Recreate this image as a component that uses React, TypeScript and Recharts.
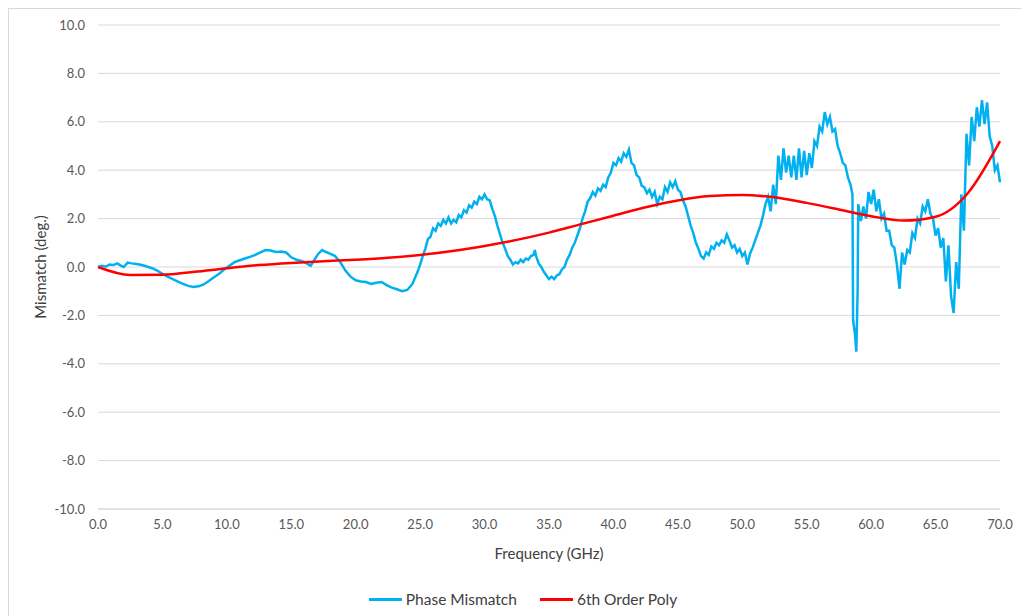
import React from "react";
import {
  LineChart,
  Line,
  XAxis,
  YAxis,
  CartesianGrid,
  Legend,
  Label,
} from "recharts";

const phaseFreq = [
  // 0 - 24.8
  0.0, 0.3, 0.6, 0.9, 1.2, 1.5, 1.8, 2.0, 2.3, 2.6, 3.0, 3.4, 3.8, 4.2, 4.6, 5.0, 5.4, 5.8, 6.2, 6.6,
  7.0, 7.4, 7.8, 8.2, 8.6, 9.0, 9.4, 9.8, 10.2, 10.6, 11.0, 11.4, 11.8, 12.2, 12.6, 13.0, 13.4, 13.8, 14.2, 14.6,
  15.0, 15.4, 15.8, 16.2, 16.5, 16.8, 17.1, 17.4, 17.7, 18.0, 18.4, 18.8, 19.2, 19.6, 20.0, 20.4, 20.8, 21.2, 21.6, 22.0,
  22.4, 22.8, 23.2, 23.6, 24.0, 24.4, 24.8,
  // 25 - 31
  25.0, 25.2, 25.4, 25.6, 25.8, 26.0, 26.2, 26.4, 26.6, 26.8, 27.0, 27.2, 27.4, 27.6, 27.8, 28.0,
  28.2, 28.4, 28.6, 28.8, 29.0, 29.2, 29.4, 29.6, 29.8, 30.0, 30.2, 30.4, 30.6, 30.8, 31.0,
  // 31.2 - 38
  31.2, 31.4, 31.6, 31.8, 32.0, 32.2, 32.4, 32.6, 32.8, 33.0, 33.2, 33.4, 33.6, 33.8, 33.9, 34.0,
  34.2, 34.4, 34.6, 34.8, 35.0, 35.2, 35.4, 35.6, 35.8, 36.0, 36.2, 36.4, 36.6, 36.8, 37.0, 37.2,
  37.4, 37.6, 37.8, 38.0,
  // 38.2 - 52.2
  38.2, 38.4, 38.6, 38.8, 39.0, 39.2, 39.4, 39.6, 39.8, 40.0, 40.2, 40.4, 40.6, 40.8, 41.0, 41.2,
  41.4, 41.6, 41.8, 42.0, 42.2, 42.4, 42.6, 42.8, 43.0, 43.2, 43.4, 43.6, 43.8, 44.0, 44.2, 44.4,
  44.6, 44.8, 45.0, 45.2, 45.4, 45.6, 45.8, 46.0, 46.2, 46.4, 46.6, 46.8, 47.0,
  47.2, 47.4, 47.6, 47.8, 48.0, 48.2, 48.4, 48.6, 48.8, 49.0, 49.2, 49.4, 49.6, 49.8, 50.0, 50.2,
  50.4, 50.6, 50.8, 51.0, 51.2, 51.4, 51.6, 51.8, 52.0, 52.2,
  // 52.4 - 58.95
  52.4, 52.6, 52.8, 53.0, 53.2, 53.4, 53.6, 53.8, 54.0, 54.2, 54.4, 54.6, 54.8, 55.0, 55.2, 55.4,
  55.6, 55.8, 56.0, 56.2, 56.4, 56.6, 56.8, 57.0, 57.2, 57.4, 57.6, 57.8, 58.0, 58.2, 58.4,
  58.55, 58.6, 58.75, 58.85, 58.95,
  // 59 - 70
  59.0, 59.2, 59.4, 59.6, 59.8, 60.0, 60.2, 60.4, 60.6, 60.8, 61.0, 61.2, 61.4, 61.6, 61.8, 62.0,
  62.2, 62.4, 62.6, 62.8, 63.0, 63.2, 63.4, 63.6, 63.8, 64.0, 64.2, 64.4, 64.6, 64.8, 65.0, 65.2,
  65.4, 65.6, 65.8, 66.0, 66.2, 66.4, 66.6, 66.8, 67.0, 67.2, 67.4, 67.6, 67.8, 68.0, 68.2, 68.4,
  68.6, 68.8, 69.0, 69.2, 69.4, 69.6, 69.8, 70.0,
];
const phaseMismatch = [
  // 0 - 24.8
  0.0, 0.05, 0.02, 0.1, 0.08, 0.15, 0.05, 0.0, 0.18, 0.15, 0.12, 0.08, 0.02, -0.05, -0.15, -0.28, -0.4, -0.5, -0.6, -0.7,
  -0.78, -0.83, -0.8, -0.72, -0.58, -0.42, -0.28, -0.1, 0.05, 0.2, 0.28, 0.35, 0.42, 0.5, 0.6, 0.7, 0.68, 0.62, 0.64, 0.6,
  0.4, 0.3, 0.25, 0.15, 0.05, 0.3, 0.55, 0.7, 0.62, 0.55, 0.45, 0.2, -0.15, -0.4, -0.55, -0.6, -0.62, -0.7, -0.65, -0.62,
  -0.75, -0.85, -0.92, -1.0, -0.95, -0.7, -0.2,
  // 25 - 31
  0.1, 0.45, 0.75, 1.15, 1.25, 1.6, 1.5, 1.8, 1.7, 1.95, 1.8, 2.05, 1.8, 1.95, 1.85, 2.15,
  2.05, 2.35, 2.25, 2.55, 2.45, 2.7, 2.6, 2.9, 2.8, 3.0, 2.8, 2.75, 2.4, 2.1, 1.7,
  // 31.2 - 38
  1.35, 1.0, 0.75, 0.45, 0.3, 0.1, 0.2, 0.15, 0.3, 0.2, 0.35, 0.3, 0.45, 0.5, 0.7, 0.45,
  0.15, 0.0, -0.2, -0.35, -0.5, -0.4, -0.5, -0.35, -0.3, -0.1, 0.0, 0.3, 0.5, 0.8, 1.0, 1.3,
  1.6, 2.0, 2.3, 2.7,
  // 38.2 - 52.2
  2.85, 3.1, 2.95, 3.25, 3.15, 3.4, 3.3, 3.7, 3.9, 4.3, 4.2, 4.5, 4.35, 4.7, 4.55, 4.85,
  4.3, 4.2, 3.8, 3.7, 3.35, 3.3, 3.05, 3.2, 2.9, 3.1, 2.6, 2.9, 2.8, 3.3, 3.1, 3.5,
  3.3, 3.55, 3.2, 3.1, 2.75, 2.5, 2.1, 1.7, 1.4, 1.0, 0.75, 0.45, 0.35,
  0.6, 0.5, 0.85, 0.75, 1.0, 0.9, 1.1, 1.0, 1.35, 1.1, 0.8, 0.9, 0.6, 0.75, 0.45, 0.6,
  0.1, 0.55, 0.8, 1.1, 1.4, 1.7, 2.1, 2.6, 2.9, 2.3,
  // 52.4 - 58.95
  3.4, 2.6, 4.6, 3.6, 4.9, 3.9, 4.6, 3.7, 4.6, 3.6, 4.9, 3.7, 4.8, 3.8, 4.7, 4.1,
  5.2, 5.0, 5.8, 5.6, 6.4, 5.9, 6.2, 5.6, 5.7, 5.0, 4.7, 4.3, 4.2, 3.7, 3.4,
  3.0, -2.2, -2.8, -3.5, -1.0,
  // 59 - 70
  2.6, 1.9, 2.5, 2.0, 3.1, 2.6, 3.2, 2.3, 2.8, 2.0, 2.2, 1.5, 1.5, 0.9, 0.8, 0.1,
  -0.9, 0.6, 0.1, 0.7, 0.6, 1.4, 1.2, 2.0, 1.8, 2.5, 2.3, 2.8, 2.2, 2.0, 1.3, 1.6,
  0.8, 1.2, -0.6, 0.9, -1.2, -1.9, 0.2, -0.9, 3.0, 1.5, 5.5, 4.2, 6.2, 5.2, 6.6, 5.8,
  6.9, 5.9, 6.8, 5.4, 5.0, 4.0, 4.2, 3.5,
];

// 6th order polynomial fit, sampled off the plot
const polyFreq = [0, 2.5, 5, 7.5, 10, 12.5, 15, 17.5, 20, 22.5, 25, 27.5, 30, 32.5, 35, 37.5, 40, 42.5, 45, 47.5, 50, 52.5, 55, 57.5, 60, 62.5, 65, 67.5, 70];
const polyFit = [0.0, -0.33, -0.32, -0.2, -0.05, 0.08, 0.17, 0.24, 0.3, 0.38, 0.5, 0.66, 0.87, 1.12, 1.42, 1.77, 2.12, 2.47, 2.75, 2.93, 2.98, 2.88, 2.65, 2.38, 2.1, 1.92, 2.08, 3.05, 5.2];

const xTicks = [0, 5, 10, 15, 20, 25, 30, 35, 40, 45, 50, 55, 60, 65, 70];
const yTicks = [-10, -8, -6, -4, -2, 0, 2, 4, 6, 8, 10];

const phaseData = phaseFreq.map((f, i) => ({ f, v: phaseMismatch[i] }));
const polyData = polyFreq.map((f, i) => ({ f, v: polyFit[i] }));

const FONT = "Lato, 'Open Sans', sans-serif";
const BLUE = "#00B0F0";
const RED = "#FF0000";

const legendItems = [
  { name: "Phase Mismatch", color: BLUE },
  { name: "6th Order Poly", color: RED },
];

function ChartLegend() {
  return (
    <div style={{ display: "flex", justifyContent: "center", gap: 23, marginLeft: 37, fontFamily: FONT, fontSize: 15.5, color: "#404040" }}>
      {legendItems.map((it) => (
        <div key={it.name} style={{ display: "flex", alignItems: "center" }}>
          <span style={{ display: "inline-block", width: 33, height: 3, background: it.color, marginRight: 4 }} />
          <span>{it.name}</span>
        </div>
      ))}
    </div>
  );
}

export default function App() {
  return (
    <div style={{ width: 1020, height: 607, borderLeft: "1px solid #D9D9D9", borderTop: "1px solid #D9D9D9", background: "#fff" }}>
      <LineChart width={1020} height={607} margin={{ top: 16, right: 29, left: 0, bottom: 39 }}>
        <CartesianGrid vertical={false} stroke="#D9D9D9" strokeWidth={1} />
        <XAxis
          type="number"
          dataKey="f"
          domain={[0, 70]}
          ticks={xTicks}
          allowDuplicatedCategory={false}
          tickFormatter={(v) => v.toFixed(1)}
          tick={{ fill: "#595959", fontSize: 13, fontFamily: FONT }}
          tickLine={false}
          tickSize={0}
          tickMargin={11}
          axisLine={{ stroke: "#D9D9D9" }}
          height={50}
        >
          <Label value="Frequency (GHz)" position="insideBottom" offset={0} style={{ fill: "#404040", fontSize: 15, fontFamily: FONT }} />
        </XAxis>
        <YAxis
          type="number"
          domain={[-10, 10]}
          ticks={yTicks}
          tickFormatter={(v) => v.toFixed(1)}
          tick={{ fill: "#595959", fontSize: 13, fontFamily: FONT }}
          tickLine={false}
          tickSize={0}
          tickMargin={13}
          axisLine={false}
          width={89}
        >
          <Label value="Mismatch (deg.)" angle={-90} position="insideLeft" offset={32} style={{ fill: "#404040", fontSize: 15, fontFamily: FONT, textAnchor: "middle" }} />
        </YAxis>
        <Legend verticalAlign="bottom" wrapperStyle={{ bottom: 8 }} content={() => <ChartLegend />} />
        <Line data={phaseData} dataKey="v" name="Phase Mismatch" type="linear" stroke={BLUE} strokeWidth={2.5} dot={false} isAnimationActive={false} />
        <Line data={polyData} dataKey="v" name="6th Order Poly" type="monotone" stroke={RED} strokeWidth={2.5} dot={false} isAnimationActive={false} />
      </LineChart>
    </div>
  );
}
